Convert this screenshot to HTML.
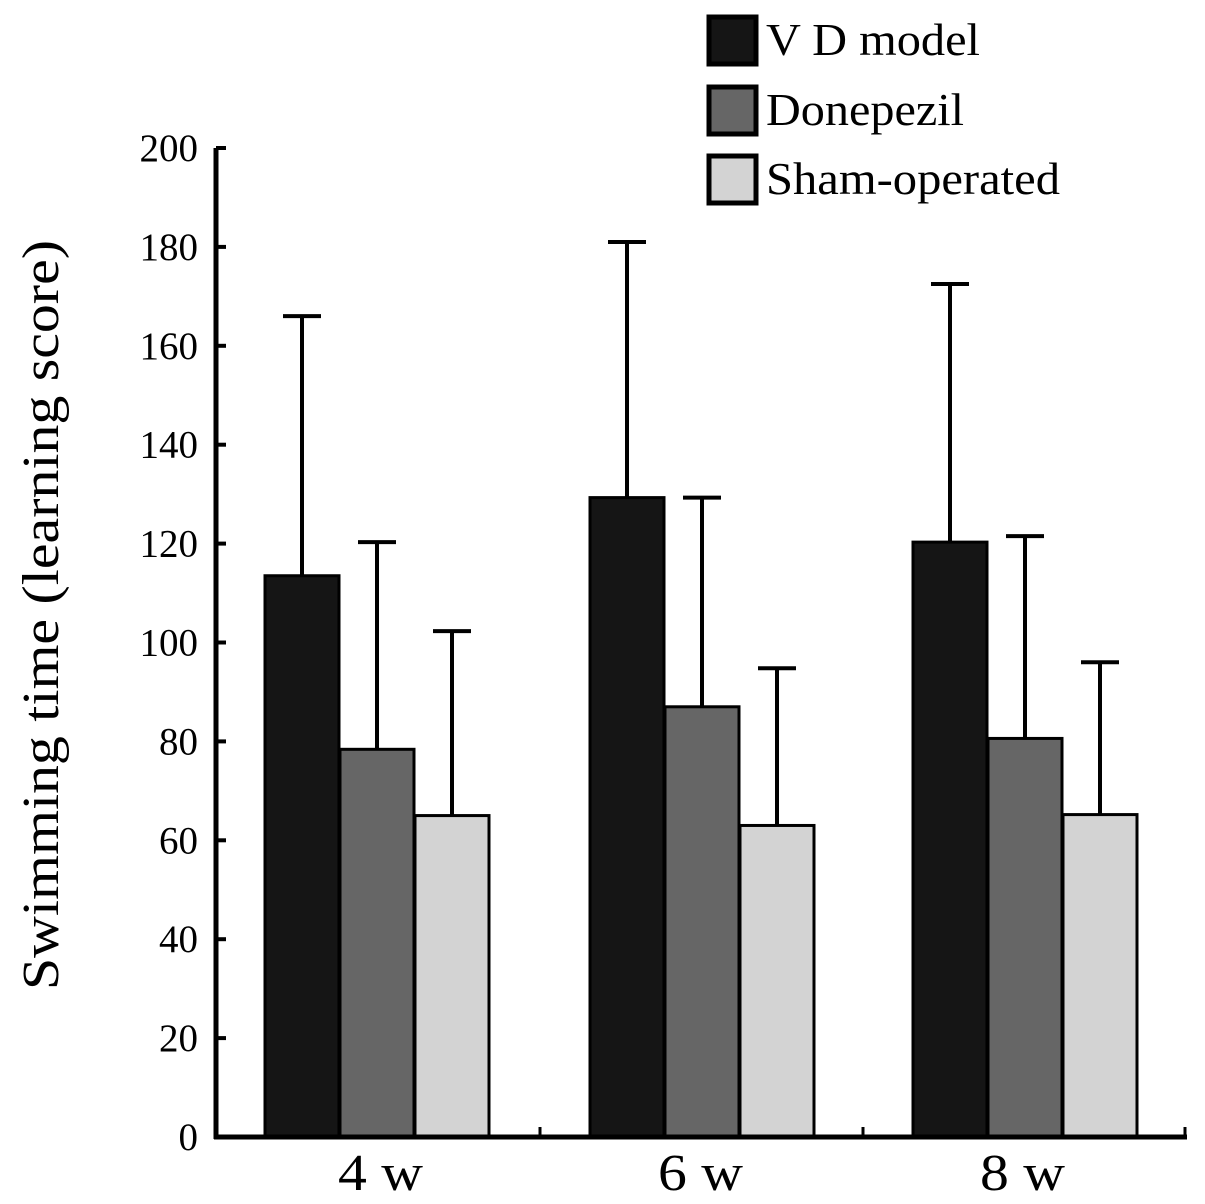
<!DOCTYPE html>
<html><head><meta charset="utf-8"><style>
html,body{margin:0;padding:0;background:#fff;}
svg{display:block;}
text{font-family:"Liberation Serif",serif;fill:#000;}
</style></head><body>
<svg id="chart" width="1205" height="1204" viewBox="0 0 1205 1204">
<g id="plot"></g>
</svg>
<script>
const categories = ["4 w", "6 w", "8 w"];
const seriesNames = ["V D model", "Donepezil", "Sham-operated"];
const vdModel = [113.5, 129.3, 120.3];
const donepezil = [78.4, 87, 80.6];
const sham = [65, 63, 65.2];
const vdModelErr = [166, 181, 172.5];
const donepezilErr = [120.3, 129.3, 121.5];
const shamErr = [102.3, 94.8, 96];
const yTicks = [0, 20, 40, 60, 80, 100, 120, 140, 160, 180, 200];

const NS = "http://www.w3.org/2000/svg";
const svg = document.getElementById("plot");
const x0 = 216, y0 = 1137, yTop = 148, xEnd = 1187;
const yScale = v => y0 - (v / 200) * (y0 - yTop);
const groupStart = [265, 590, 913];
const barW = 74;
const colors = ["#151515", "#666666", "#d3d3d3"];
const series = [vdModel, donepezil, sham];
const errs = [vdModelErr, donepezilErr, shamErr];
const legLen = [214, 198, 294];

function mk(tag, attrs) { const e = document.createElementNS(NS, tag); for (const k in attrs) e.setAttribute(k, attrs[k]); svg.appendChild(e); return e; }

categories.forEach((c, i) => {
  series.forEach((s, j) => {
    const x = groupStart[i] + j * (barW + 1);
    const cx = x + barW / 2;
    const e = errs[j][i];
    const el = mk("line", {x1: cx, x2: cx, y1: yScale(e), y2: yScale(s[i]), stroke: "#000", "stroke-width": 4});
    
    
    const cap = mk("line", {x1: cx - 19, x2: cx + 19, y1: yScale(e), y2: yScale(e), stroke: "#000", "stroke-width": 4});
    
    
    const r = mk("rect", {x: x, y: yScale(s[i]), width: barW, height: y0 - yScale(s[i]), fill: colors[j], stroke: "#000", "stroke-width": 3});
    
    
  });
  const t = mk("text", {x: [380, 700, 1022][i] - 42, y: 1190, "font-size": 52, textLength: 85, lengthAdjust: "spacingAndGlyphs"});
  t.textContent = c;
  
  
});

const ya = mk("line", {x1: x0, x2: x0, y1: yTop, y2: y0 + 2, stroke: "#000", "stroke-width": 5});


const xa = mk("line", {x1: x0 - 2, x2: xEnd, y1: y0, y2: y0, stroke: "#000", "stroke-width": 5});


[540, 863, 1185].forEach(x => {
  const tk = mk("line", {x1: x, x2: x, y1: y0, y2: y0 - 10, stroke: "#000", "stroke-width": 3});
  
  
});
yTicks.forEach(v => {
  const y = yScale(v);
  const tk = mk("line", {x1: x0, x2: x0 + 10, y1: y, y2: y, stroke: "#000", "stroke-width": 4});
  
  
  const t = mk("text", {x: 198, y: y + 13, "font-size": 39, "text-anchor": "end"});
  t.textContent = v;
  
  
});
const yt = mk("text", {x: -990, y: 58, "font-size": 52, transform: "rotate(-90)", textLength: 750, lengthAdjust: "spacingAndGlyphs"});
yt.textContent = "Swimming time (learning score)";



const legY = [17, 87, 156];
seriesNames.forEach((n, j) => {
  const r = mk("rect", {x: 709, y: legY[j], width: 47, height: 47, fill: colors[j], stroke: "#000", "stroke-width": 5});
  
  
  const t = mk("text", {x: 766, y: legY[j] + 38, "font-size": 46, textLength: legLen[j], lengthAdjust: "spacingAndGlyphs"});
  t.textContent = n;
  
  
});
</script>
</body></html>
